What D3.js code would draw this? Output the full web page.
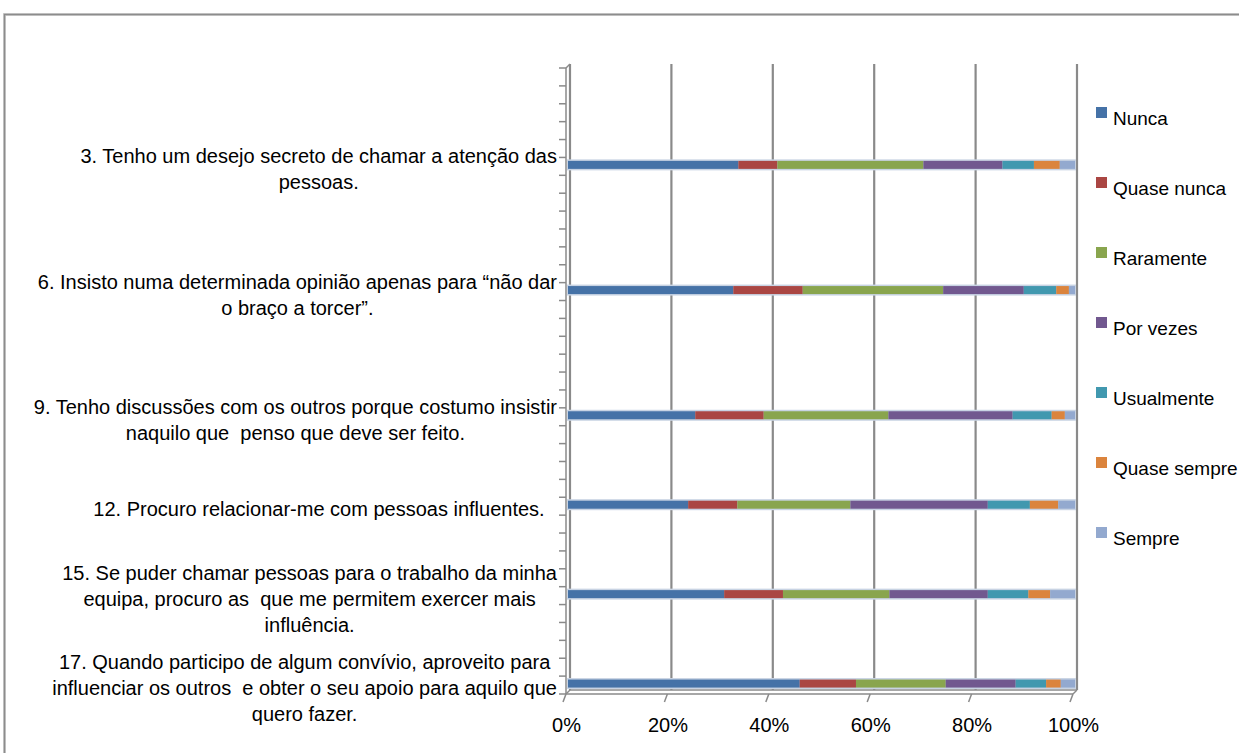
<!DOCTYPE html>
<html>
<head>
<meta charset="utf-8">
<script src="https://cdn.jsdelivr.net/npm/d3@7"></script>
<style>
  html, body { margin: 0; padding: 0; background: #ffffff; }
  svg { display: block; font-family: "Liberation Sans", Arial, sans-serif; }
  .cat-label text { white-space: pre; }
</style>
</head>
<body>
<svg id="chart" width="1239" height="753"></svg>
<script>
// Category rows of the survey sheet (blank rows keep their slot on the axis).
// Lines of a wrapped label are separated by "\n".
const categories = [
  "", "", "", "", "",
  "3. Tenho um desejo secreto de chamar a atenção das\npessoas.",
  "", "", "", "", "", "",
  "6. Insisto numa determinada opinião apenas para “não dar\no braço a torcer”.",
  "", "", "", "", "", "",
  "9. Tenho discussões com os outros porque costumo insistir\nnaquilo que  penso que deve ser feito.",
  "", "", "", "",
  "12. Procuro relacionar-me com pessoas influentes.",
  "", "", "", "",
  "15. Se puder chamar pessoas para o trabalho da minha\nequipa, procuro as  que me permitem exercer mais\ninfluência.",
  "", "", "", "",
  "17. Quando participo de algum convívio, aproveito para\ninfluenciar os outros  e obter o seu apoio para aquilo que\nquero fazer."
];

const seriesNames = ["Nunca", "Quase nunca", "Raramente", "Por vezes", "Usualmente", "Quase sempre", "Sempre"];
const seriesColors = ["#4572A7", "#AA4643", "#89A54E", "#71588F", "#4198AF", "#DB843D", "#93A9CF"];

// Answer shares (%) for the answered items, in category order (3, 6, 9, 12, 15, 17)
const nunca       = [33.6, 32.6, 25.1, 23.7, 30.8, 45.7];
const quaseNunca  = [ 7.7, 13.7, 13.5,  9.7, 11.6, 11.1];
const raramente   = [28.8, 27.7, 24.6, 22.3, 21.0, 17.7];
const porVezes    = [15.6, 15.9, 24.5, 27.1, 19.4, 13.8];
const usualmente  = [ 6.2,  6.4,  7.7,  8.3,  8.0,  6.0];
const quaseSempre = [ 5.1,  2.5,  2.6,  5.6,  4.3,  2.9];
const sempre      = [ 3.0,  1.2,  2.0,  3.3,  4.9,  2.8];

const tickValues = [0, 0.2, 0.4, 0.6, 0.8, 1];
const tickLabels = ["0%", "20%", "40%", "60%", "80%", "100%"];

const seriesValues = [nunca, quaseNunca, raramente, porVezes, usualmente, quaseSempre, sempre];

// rows with data
const answeredRows = categories.map((c, i) => c ? i : -1).filter(i => i >= 0);
const table = answeredRows.map((row, k) => {
  const o = { row };
  seriesNames.forEach((s, j) => { o[s] = seriesValues[j][k]; });
  return o;
});

const stacked = d3.stack().keys(seriesNames).offset(d3.stackOffsetExpand)(table);

const svg = d3.select("#chart");
const gray = "#8a8a8a";
const depth = 4; // 3-D wall offset

// scales
const y = d3.scaleBand().domain(d3.range(categories.length)).range([68, 694]).paddingInner(0);
const xFront = d3.scaleLinear().domain([0, 1]).range([566, 1073]);
const xBack = d3.scaleLinear().domain([0, 1]).range([566 + depth, 1073 + depth]);
const xBar = d3.scaleLinear().domain([0, 1]).range([568, 1075]);

// outer frame
svg.append("path")
  .attr("d", "M4.5,753 V14.5 H1239")
  .attr("fill", "none").attr("stroke", "#d0d0d0").attr("stroke-width", 3);
svg.append("path")
  .attr("d", "M4.5,753 V14.5 H1239")
  .attr("fill", "none").attr("stroke", "#8c8c8c").attr("stroke-width", 1.5);

const plotTop = y.range()[0], plotBottom = y.range()[1];

// back-wall gridlines
svg.append("g").selectAll("line").data(tickValues).join("line")
  .attr("x1", d => xBack(d)).attr("x2", d => xBack(d))
  .attr("y1", plotTop - depth).attr("y2", plotBottom - depth)
  .attr("stroke", gray).attr("stroke-width", 2.2);

// floor edges
const frame = svg.append("g").attr("fill", "none").attr("stroke", gray).attr("stroke-width", 1.5);
frame.append("line").attr("x1", xBack(0)).attr("x2", xBack(1)).attr("y1", plotBottom - depth).attr("y2", plotBottom - depth);
frame.append("line").attr("x1", xFront(0)).attr("x2", xFront(1)).attr("y1", plotBottom).attr("y2", plotBottom);
frame.append("line").attr("x1", xFront(1)).attr("x2", xBack(1)).attr("y1", plotBottom).attr("y2", plotBottom - depth);
frame.append("line").attr("x1", xFront(0)).attr("x2", xBack(0)).attr("y1", plotBottom).attr("y2", plotBottom - depth);

// left wall front edge and top corner
frame.append("line").attr("x1", xFront(0)).attr("x2", xFront(0)).attr("y1", plotTop).attr("y2", plotBottom);
frame.append("line").attr("x1", xFront(0)).attr("x2", xBack(0)).attr("y1", plotTop).attr("y2", plotTop - depth);

// category tick marks on band boundaries
const boundaries = d3.range(categories.length + 1).map(i => plotTop + i * y.step());
frame.append("g").selectAll("line").data(boundaries).join("line")
  .attr("x1", xFront(0) - 7).attr("x2", xFront(0))
  .attr("y1", d => d).attr("y2", d => d);

// value tick marks on the floor front edge
frame.append("g").selectAll("line").data(tickValues).join("line")
  .attr("x1", d => xFront(d)).attr("x2", d => xFront(d) - 3)
  .attr("y1", plotBottom).attr("y2", plotBottom + 8);

// value axis labels
const xAxis = d3.axisBottom(xFront).tickValues(tickValues)
  .tickFormat((d, i) => tickLabels[i]).tickSize(0).tickPadding(24);
const gx = svg.append("g").attr("transform", `translate(0,${plotBottom})`).call(xAxis);
gx.select(".domain").remove();
gx.selectAll("text").attr("font-size", 20).attr("fill", "#000")
  .attr("font-family", "\"Liberation Sans\", Arial, sans-serif");

// bars
const barH = 8;
const barY = row => y(row) + y.bandwidth() / 2 - barH / 2 - 1.5;
svg.append("g").selectAll("rect").data(table).join("rect")
  .attr("x", xBar(0) - 1).attr("width", xBar(1) - xBar(0) + 2)
  .attr("y", d => barY(d.row) - 1.5).attr("height", barH + 3)
  .attr("fill", "#c8d3e3");

svg.append("g").selectAll("g").data(stacked).join("g")
  .attr("fill", (d, i) => seriesColors[i])
  .selectAll("rect").data(d => d).join("rect")
  .attr("x", d => xBar(d[0]))
  .attr("width", d => xBar(d[1]) - xBar(d[0]))
  .attr("y", d => barY(d.data.row))
  .attr("height", barH);

// category labels: wrapped lines centred in a label box that ends at the axis
const labelBoxCenter = 319, labelBoxRight = 557;
const lineH = 26;
const labels = svg.append("g").attr("class", "cat-label").attr("font-size", 20).attr("fill", "#000");
categories.forEach((c, row) => {
  if (!c) return;
  const lines = c.split("\n");
  const g = labels.append("g");
  const texts = g.selectAll("text").data(lines).join("text")
    .attr("text-anchor", "middle")
    .attr("y", (d, i) => y(row) + y.bandwidth() / 2 + 3 + (i - (lines.length - 1) / 2) * lineH)
    .attr("dy", "0.35em")
    .text(d => d);
  let w = 0;
  texts.each(function () { w = Math.max(w, this.getComputedTextLength()); });
  texts.attr("x", Math.min(labelBoxCenter, labelBoxRight - w / 2));
});

// legend
const legend = svg.append("g").attr("font-size", 19);
const legendTop = 118, legendStep = 70;
const items = legend.selectAll("g").data(seriesNames).join("g")
  .attr("transform", (d, i) => `translate(1096,${legendTop + i * legendStep})`);
items.append("rect").attr("x", 0).attr("y", -11).attr("width", 11).attr("height", 11)
  .attr("fill", (d, i) => seriesColors[i]);
items.append("text").attr("x", 17).attr("y", 0).attr("dy", "0.35em").text(d => d);
</script>
</body>
</html>
